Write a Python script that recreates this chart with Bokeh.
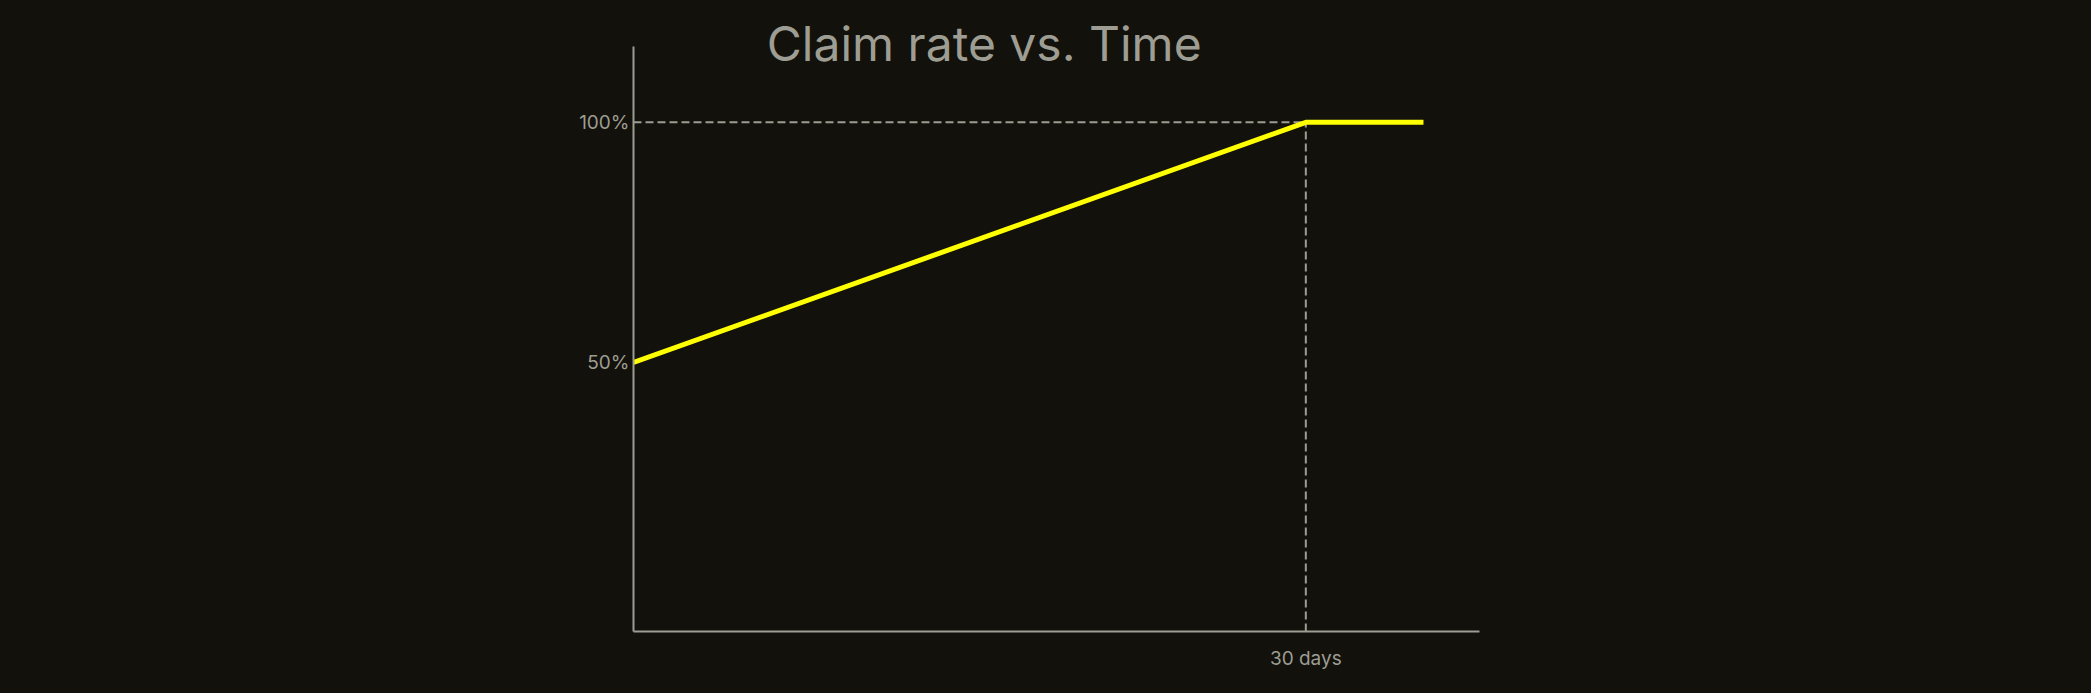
from bokeh.plotting import figure
from bokeh.models import FixedTicker, Label
from bokeh.embed import file_html
from bokeh.resources import INLINE

# data
days = [0, 30, 35.25]
claim_rate = [50, 100, 100]
x_ticks = [30]
x_tick_labels = {30: "30 days"}
y_ticks = [50, 100]
y_tick_labels = {50: "50%", 100: "100%"}
title_text = "Claim rate vs. Time"
vesting_day = 30
full_rate = 100
y_axis_bounds = (-6.0, 115.8)

BG = "#12110b"
GRAY = "#9e9d93"
TEXT = "#9e9d93"
YELLOW = "#ffff00"
FONT = "Inter"

W, H = 2091, 693
p = figure(width=W, height=H, output_backend="svg", toolbar_location=None,
           x_range=(0, 37.75), y_range=(-6.0, 125.37),
           min_border_left=633, min_border_right=612,
           min_border_top=0, min_border_bottom=62)
p.background_fill_color = None
p.border_fill_color = None
p.outline_line_color = None
p.styles = {"background-color": BG}
p.xgrid.visible = False
p.ygrid.visible = False

# axes
for ax in (p.xaxis[0], p.yaxis[0]):
    ax.axis_line_color = GRAY
    ax.axis_line_width = 2
    ax.major_tick_line_color = None
    ax.minor_tick_line_color = None
    ax.major_tick_out = 0
    ax.major_tick_in = 0
    ax.minor_tick_out = 0
    ax.major_label_text_color = TEXT
    ax.major_label_text_font = FONT
    ax.major_label_text_font_size = "19px"
p.xaxis.ticker = FixedTicker(ticks=x_ticks)
p.xaxis.major_label_overrides = x_tick_labels
p.xaxis.major_label_standoff = 15
p.yaxis.ticker = FixedTicker(ticks=y_ticks)
p.yaxis.major_label_overrides = y_tick_labels
p.yaxis.major_label_standoff = 4
p.yaxis.bounds = y_axis_bounds

# dashed guides
p.line([0, vesting_day], [full_rate, full_rate], line_color=GRAY, line_width=2, line_dash="8 4")
p.line([vesting_day, vesting_day], [y_axis_bounds[0], full_rate], line_color=GRAY, line_width=2, line_dash="8 4")

# claim rate line
p.line(days, claim_rate, line_color=YELLOW, line_width=5)

# title
p.add_layout(Label(x=15.65, y=116.5, text=title_text, text_align="center",
                   text_baseline="alphabetic", text_color=TEXT, text_font=FONT,
                   text_font_size="48px"))

html = file_html(p, INLINE)
css = "<style>html,body{margin:0;padding:0;overflow:hidden;background:%s !important;}</style>" % BG
html = html.replace("</head>", css + "</head>", 1)
open("out.html", "w").write(html)
